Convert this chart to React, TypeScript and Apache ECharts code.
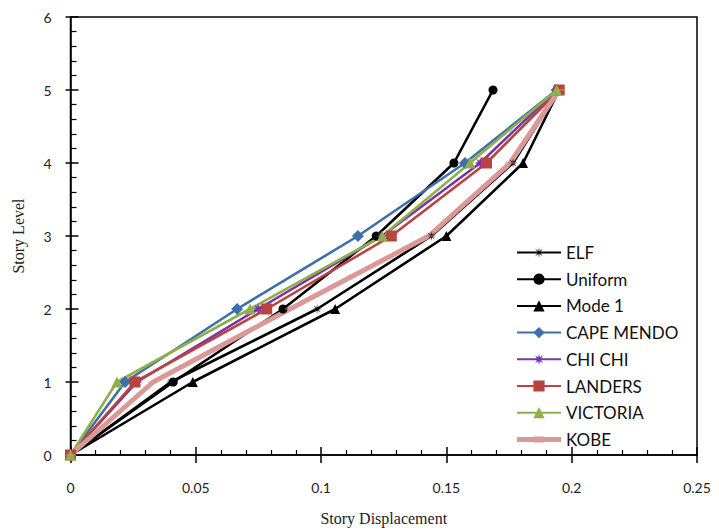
import React, { useEffect, useRef } from "react";
import * as echarts from "echarts";

const levels = [0, 1, 2, 3, 4, 5];
const xTicks = [0, 0.05, 0.1, 0.15, 0.2, 0.25];
const yTicks = [0, 1, 2, 3, 4, 5, 6];

const elf = [0, 0.040, 0.0984, 0.1440, 0.1766, 0.195];
const uniform = [0, 0.041, 0.0848, 0.122, 0.153, 0.1686];
const mode1 = [0, 0.0488, 0.1056, 0.150, 0.1806, 0.195];
const capeMendo = [0, 0.0218, 0.0665, 0.1147, 0.1574, 0.194];
const chiChi = [0, 0.0265, 0.0749, 0.1243, 0.1635, 0.194];
const landers = [0, 0.0257, 0.0783, 0.128, 0.166, 0.195];
const victoria = [0, 0.0185, 0.0716, 0.1244, 0.1594, 0.194];
const kobe = [0, 0.033, 0.0876, 0.143, 0.1754, 0.195];

function starPath(points: number, outer: number, inner: number) {
  let d = "";
  for (let i = 0; i < points * 2; i++) {
    const r = i % 2 === 0 ? outer : inner;
    const a = (Math.PI * i) / points - Math.PI / 2;
    d += (i === 0 ? "M" : "L") + (r * Math.cos(a)).toFixed(2) + "," + (r * Math.sin(a)).toFixed(2);
  }
  return "path://" + d + "Z";
}

const asterisk = starPath(8, 10, 2.6);
const chiStar = starPath(8, 10, 4);
const dash = "path://M0,0L10,0L10,3L0,3Z";
const kobeIcon =
  "path://M0,0L0.05,0L0,0.05Z M43.95,14L44,14L44,13.95Z M0,4.7L44,4.7L44,9.5L0,9.5Z M17,4L27,4L27,10L17,10Z";

export default function App() {
  const ref = useRef<HTMLDivElement>(null);
  useEffect(() => {
    if (!ref.current) return;
    const chart = echarts.init(ref.current, undefined, { renderer: "svg" });
    const mk = (
      name: string,
      vals: number[],
      color: string,
      symbol: string,
      size: number | number[],
      width = 2.6,
      keep = false
    ) => ({
      name,
      type: "line",
      data: vals.map((v, i) => [v, levels[i]]),
      symbol,
      symbolSize: size,
      symbolKeepAspect: keep,
      showSymbol: true,
      lineStyle: { color, width },
      itemStyle: { color, borderWidth: 0 },
      z: 3,
    });
    const tickFont = { fontFamily: "Lato", fontSize: 14, color: "#222" };
    chart.setOption({
      animation: false,
      backgroundColor: "#fff",
      grid: {
        left: 70.5,
        top: 17,
        right: 22,
        bottom: 77,
        show: true,
        borderColor: "#000",
        borderWidth: 1.5,
        backgroundColor: "transparent",
      },
      legend: {
        orient: "vertical",
        left: 511,
        top: 239,
        itemWidth: 44,
        itemHeight: 14,
        itemGap: 9.7,
        textStyle: { fontFamily: "Lato", fontSize: 17, color: "#111", lineHeight: 16 },
        data: [
          "ELF",
          "Uniform",
          "Mode 1",
          "CAPE MENDO",
          "CHI CHI",
          "LANDERS",
          "VICTORIA",
          { name: "KOBE", icon: kobeIcon },
        ],
      },
      xAxis: [
        {
          type: "value",
          min: 0,
          max: 0.25,
          interval: 0.05,
          position: "bottom",
          name: "Story Displacement",
          nameLocation: "middle",
          nameGap: 55,
          nameTextStyle: { fontFamily: "Liberation Serif", fontSize: 16, color: "#222" },
          axisLine: { show: true, lineStyle: { color: "#000", width: 1.5 } },
          axisTick: { show: true, inside: true, length: 8, lineStyle: { color: "#000", width: 1.5 } },
          minorTick: { show: true, splitNumber: 5, length: 5, lineStyle: { color: "#000", width: 1.2 } },
          splitLine: { show: false },
          axisLabel: {
            ...tickFont,
            margin: 25,
            formatter: (v: number) => {
              const t = xTicks.find((x) => Math.abs(x - v) < 1e-9);
              return t === undefined ? "" : String(t);
            },
          },
        },
        {
          type: "value",
          min: 0,
          max: 0.25,
          interval: 0.05,
          position: "bottom",
          axisLine: { show: false },
          axisTick: { show: true, inside: false, length: 8, lineStyle: { color: "#000", width: 1.5 } },
          axisLabel: { show: false },
          splitLine: { show: false },
        },
      ],
      yAxis: [
        {
          type: "value",
          min: 0,
          max: 6,
          interval: 1,
          position: "left",
          name: "Story Level",
          nameLocation: "middle",
          nameGap: 44,
          nameTextStyle: { fontFamily: "Liberation Serif", fontSize: 16, color: "#222" },
          axisLine: { show: true, lineStyle: { color: "#000", width: 1.5 } },
          axisTick: { show: true, inside: true, length: 8, lineStyle: { color: "#000", width: 1.5 } },
          minorTick: { show: true, splitNumber: 5, length: 6, lineStyle: { color: "#000", width: 1.2 } },
          splitLine: { show: false },
          axisLabel: {
            ...tickFont,
            margin: 19,
            formatter: (v: number) => (yTicks.includes(v) ? String(v) : ""),
          },
        },
        {
          type: "value",
          min: 0,
          max: 6,
          interval: 1,
          position: "left",
          axisLine: { show: false },
          axisTick: { show: true, inside: false, length: 5, lineStyle: { color: "#000", width: 1.5 } },
          axisLabel: { show: false },
          splitLine: { show: false },
        },
      ],
      series: [
        mk("ELF", elf, "#000000", asterisk, 10),
        mk("Uniform", uniform, "#000000", "circle", 9),
        mk("Mode 1", mode1, "#000000", "triangle", 10),
        mk("CAPE MENDO", capeMendo, "#3F6FA8", "diamond", 12),
        mk("CHI CHI", chiChi, "#7436A8", chiStar, 12),
        mk("LANDERS", landers, "#B8433F", "rect", 11),
        mk("VICTORIA", victoria, "#8DB04A", "triangle", 11),
        mk("KOBE", kobe, "#DA9996", dash, [10, 3], 5, true),
      ],
    });
    return () => chart.dispose();
  }, []);
  return (
    <div
      ref={ref}
      style={{ position: "absolute", left: 0, top: 0, width: 719, height: 532 }}
    />
  );
}
